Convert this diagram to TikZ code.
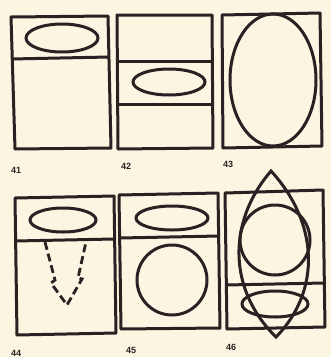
\documentclass[tikz,border=0pt]{standalone}
\usepackage{fontspec}
\setmainfont{Liberation Sans}
\definecolor{paper}{HTML}{FAF6E2}
\definecolor{ink}{HTML}{2A2222}
\begin{document}
\begin{tikzpicture}[x=1pt,y=-1pt,
  frame/.style={draw=ink,line width=3pt,line join=round},
  figline/.style={draw=ink,line width=3pt},
  dashline/.style={draw=ink,line width=2.8pt,dash pattern=on 8pt off 4pt},
  lbl/.style={font=\bfseries\fontsize{9}{10}\selectfont,text=ink,inner sep=0pt,anchor=west}]
\fill[paper] (0,0) rectangle (331,357);
\useasboundingbox (0,0) rectangle (331,357);
% 41
\draw[frame] (11,17) -- (108,16) -- (111,148) -- (15,149) -- cycle;
\draw[frame] (11,59) -- (109,57);
\draw[figline] (62,38) ellipse [x radius=36, y radius=14];
\node[lbl] (l41) at (11,170) {41};
% 42
\draw[frame] (117,15) -- (212,15) -- (213,148) -- (118,149) -- cycle;
\draw[frame] (117,61) -- (212,61);
\draw[frame] (118,104) -- (213,104);
\draw[figline] (169,82) ellipse [x radius=36, y radius=13];
\node[lbl] (l42) at (121,166) {42};
% 43
\draw[frame] (222,15) -- (320,13) -- (322,146) -- (223,148) -- cycle;
\draw[figline] (273,80) ellipse [x radius=43, y radius=66];
\node[lbl] (l43) at (223,164) {43};
% 44
\draw[frame] (15,198) -- (114,196) -- (116,333) -- (17,335) -- cycle;
\draw[frame] (15,241) -- (114,239);
\draw[figline] (63,220) ellipse [x radius=33, y radius=12];
\draw[dashline] (45,242) -- (55,280) -- (51,283) -- (67,305) -- (82,279) -- (78,278) -- (86,242);
\node[lbl] (l44) at (11,353) {44};
% 45
\draw[frame] (119,195) -- (218,193) -- (220,328) -- (121,329) -- cycle;
\draw[frame] (120,238) -- (219,236);
\draw[figline] (172,218) ellipse [x radius=36, y radius=12];
\draw[figline] (172,280) circle [radius=35];
\node[lbl] (l45) at (126,350) {45};
% 46
\draw[frame] (225,193) -- (323,190) -- (325,327) -- (227,329) -- cycle;
\draw[frame] (226,285) -- (324,283);
\draw[figline] (275,240) circle [radius=35];
\draw[figline] (275,304) ellipse [x radius=33, y radius=13];
\draw[figline,line join=miter] (271,171) .. controls (227,222) and (228,290) .. (276,337)
  .. controls (322,290) and (318,222) .. cycle;
\node[lbl] (l46) at (226,347) {46};
\end{tikzpicture}
\end{document}
